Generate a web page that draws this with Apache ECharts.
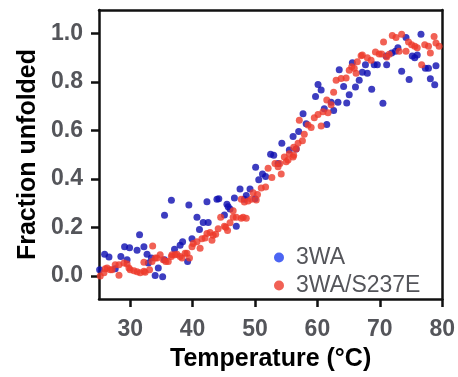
<!DOCTYPE html>
<html>
<head>
<meta charset="utf-8">
<script src="https://cdn.jsdelivr.net/npm/echarts@6/dist/echarts.min.js"></script>
<style>
  html, body { margin: 0; padding: 0; background: #fff; }
  #chart { width: 458px; height: 377px; }
</style>
</head>
<body>
<div id="chart"></div>
<script>
// 3WA (blue)
const wtTemp = [25.1, 25.9, 26.6, 27.6, 28.5, 29.1, 29.5, 29.9, 31.1, 31.5, 32.2, 32.7, 32.9, 33.4, 34.0, 34.5, 35.2, 35.5, 35.5, 36.6,
  37.1, 38.0, 38.4, 39.2, 39.4, 39.9, 40.7, 41.1, 41.7, 42.3, 42.5, 43.9, 44.2, 45.1, 45.5, 45.7, 46.0, 46.7, 47.0, 47.6,
  48.3, 48.6, 49.2, 50.0, 50.1, 50.6, 51.2, 51.7, 52.5, 53.0, 53.7, 54.3, 55.5, 56.1, 56.6, 57.0, 57.7, 58.2, 59.7, 60.1,
  60.6, 61.1, 61.5, 62.2, 62.6, 63.3, 63.5, 64.2, 64.7, 65.1, 65.6, 66.1, 66.7, 67.2, 67.7, 68.0, 68.7, 69.1, 69.6, 70.5,
  71.0, 71.1, 71.9, 72.5, 72.9, 73.5, 74.2, 74.7, 75.2, 75.6, 76.0, 76.6, 77.3, 77.8, 78.1, 78.8, 79.0];
const wtFrac = [0.026, 0.09, 0.078, 0.03, 0.08, 0.12, 0.067, 0.116, 0.106, 0.17, 0.12, 0.09, 0.053, 0.074, 0.002, 0.033, -0.003, 0.25, 0.067, 0.312,
  0.11, 0.127, 0.141, 0.06, 0.293, 0.154, 0.242, 0.192, 0.221, 0.306, 0.221, 0.316, 0.318, 0.251, 0.296, 0.286, 0.276, 0.322, 0.205, 0.359,
  0.316, 0.332, 0.359, 0.318, 0.448, 0.397, 0.421, 0.41, 0.502, 0.498, 0.464, 0.547, 0.52, 0.575, 0.524, 0.596, 0.669, 0.628, 0.74, 0.79,
  0.767, 0.69, 0.625, 0.717, 0.682, 0.717, 0.851, 0.781, 0.713, 0.747, 0.879, 0.779, 0.807, 0.84, 0.871, 0.836, 0.77, 0.871, 0.871, 0.712,
  0.907, 0.871, 0.92, 0.927, 0.941, 0.844, 0.984, 0.81, 0.907, 0.90, 0.911, 0.997, 0.857, 0.857, 0.813, 0.789, 0.867];

// 3WA/S237E (red)
const mutTemp = [25.2, 25.8, 26.0, 26.3, 26.8, 27.1, 27.6, 28.2, 28.2, 29.0, 29.5, 29.8, 30.0, 30.6, 31.1, 31.6, 32.2, 32.2, 32.4, 33.1,
  33.5, 33.6, 34.0, 34.3, 34.8, 35.3, 35.7, 36.1, 36.6, 36.7, 37.2, 37.5, 38.0, 38.3, 38.8, 39.1, 39.5, 39.9, 40.1, 40.7,
  41.2, 41.5, 42.0, 42.3, 42.8, 43.1, 43.3, 43.7, 44.1, 44.5, 45.1, 45.3, 45.6, 46.0, 46.5, 46.5, 47.0, 47.8, 47.8, 48.1,
  48.3, 48.6, 48.9, 49.4, 49.7, 50.2, 50.4, 51.0, 51.7, 52.1, 52.7, 53.2, 53.7, 54.0, 54.2, 54.7, 55.0, 55.3, 55.5, 56.1,
  56.2, 56.2, 56.6, 56.9, 57.1, 57.6, 57.9, 58.5, 59.0, 59.5, 60.1, 60.6, 60.9, 61.5, 61.7, 62.2, 62.6, 63.0, 63.8, 64.6,
  65.1, 65.5, 65.9, 66.2, 66.4, 67.0, 67.2, 68.0, 68.6, 69.3, 69.9, 70.3, 70.6, 71.1, 71.5, 72.0, 72.6, 73.1, 73.5, 74.2,
  74.6, 75.1, 75.6, 76.0, 76.7, 77.2, 77.8, 78.1, 78.7, 79.0, 79.5];
const mutFrac = [0.0, 0.013, 0.03, 0.033, 0.026, 0.026, 0.046, 0.003, 0.046, 0.053, 0.049, 0.033, 0.026, 0.022, 0.017, 0.013, 0.019, 0.057, 0.015, 0.026,
  0.06, 0.124, 0.074, 0.074, 0.087, 0.067, 0.06, 0.06, 0.08, 0.087, 0.087, 0.09, 0.08, 0.074, 0.094, 0.094, 0.074, 0.12, 0.134, 0.141,
  0.114, 0.154, 0.157, 0.175, 0.179, 0.147, 0.168, 0.172, 0.195, 0.242, 0.205, 0.201, 0.188, 0.219, 0.269, 0.242, 0.242, 0.238, 0.316, 0.242,
  0.305, 0.238, 0.309, 0.316, 0.343, 0.313, 0.336, 0.363, 0.367, 0.444, 0.406, 0.464, 0.45, 0.464, 0.421, 0.491, 0.471, 0.478, 0.504, 0.491,
  0.531, 0.498, 0.524, 0.547, 0.642, 0.558, 0.585, 0.623, 0.612, 0.653, 0.666, 0.619, 0.677, 0.726, 0.673, 0.706, 0.758, 0.807, 0.814, 0.817,
  0.848, 0.863, 0.857, 0.836, 0.884, 0.908, 0.911, 0.90, 0.89, 0.924, 0.916, 0.916, 0.965, 0.903, 0.914, 0.992, 0.984, 0.927, 0.997, 0.927,
  0.965, 0.954, 0.947, 0.941, 0.871, 0.954, 0.947, 0.92, 0.988, 0.961, 0.947];

const xTicks = [30, 40, 50, 60, 70, 80];
const yTicks = [0, 0.2, 0.4, 0.6, 0.8, 1.0];
const xMin = 25, xMax = 80;
const yMin = -0.095, yMax = 1.097;

const FONT = '"Liberation Sans", Arial, sans-serif';
const pairs = (xs, ys) => xs.map((x, i) => [x, ys[i]]);
const frame = { width: 2.5, color: '#111' };

const chart = echarts.init(document.getElementById('chart'));

// top / right axes only draw the box edges
const edge = (extra) => Object.assign({
  type: 'value',
  axisLine: { show: true, onZero: false, lineStyle: { width: 2.5, color: '#111' } },
  axisTick: { show: false },
  axisLabel: { show: false },
  splitLine: { show: false }
}, extra);

chart.setOption({
  animation: false,
  // text colour set once here instead of on each label
  textStyle: { color: '#000', fontFamily: FONT },
  grid: { left: 99, right: 14, top: 10, bottom: 72, show: false },
  legend: {
    orient: 'vertical',
    left: 269, top: 241,
    itemWidth: 24, itemHeight: 10, itemGap: 5,
    icon: 'circle',
    textStyle: { fontSize: 23, lineHeight: 23 },
    data: [
      { name: '3WA', itemStyle: { color: '#1f3ef0' } },
      { name: '3WA/S237E', itemStyle: { color: '#ee3a2a' } }
    ]
  },
  xAxis: [
    {
      type: 'value', min: xMin, max: xMax,
      name: 'Temperature (°C)', nameLocation: 'middle', nameGap: 48,
      nameTextStyle: { fontSize: 25, fontWeight: 'bold' },
      axisLine: { show: true, onZero: false, lineStyle: { width: 2.5, color: '#111' } },
      axisTick: { show: true, customValues: xTicks, length: 8, lineStyle: { width: 2.5, color: '#111' } },
      axisLabel: { customValues: xTicks, fontSize: 23, fontWeight: 'bold', margin: 19 },
      splitLine: { show: false }
    },
    edge({ position: 'top', min: xMin, max: xMax })
  ],
  yAxis: [
    {
      type: 'value', min: yMin, max: yMax,
      name: 'Fraction unfolded', nameLocation: 'middle', nameGap: 58,
      nameTextStyle: { fontSize: 25, fontWeight: 'bold' },
      axisLine: { show: true, onZero: false, lineStyle: { width: 2.5, color: '#111' } },
      axisTick: { show: true, customValues: yTicks, length: 8, lineStyle: { width: 2.5, color: '#111' } },
      axisLabel: {
        customValues: yTicks, fontSize: 23, fontWeight: 'bold', margin: 16,
        formatter: v => v.toFixed(1)
      },
      splitLine: { show: false }
    },
    edge({ position: 'right', min: yMin, max: yMax })
  ],
  series: [
    {
      name: '3WA', type: 'scatter', symbolSize: 7,
      itemStyle: { color: '#0c0cb0' },
      data: pairs(wtTemp, wtFrac)
    },
    {
      name: '3WA/S237E', type: 'scatter', symbolSize: 7,
      itemStyle: { color: '#ee3a2a' },
      data: pairs(mutTemp, mutFrac)
    }
  ]
});
</script>
</body>
</html>
